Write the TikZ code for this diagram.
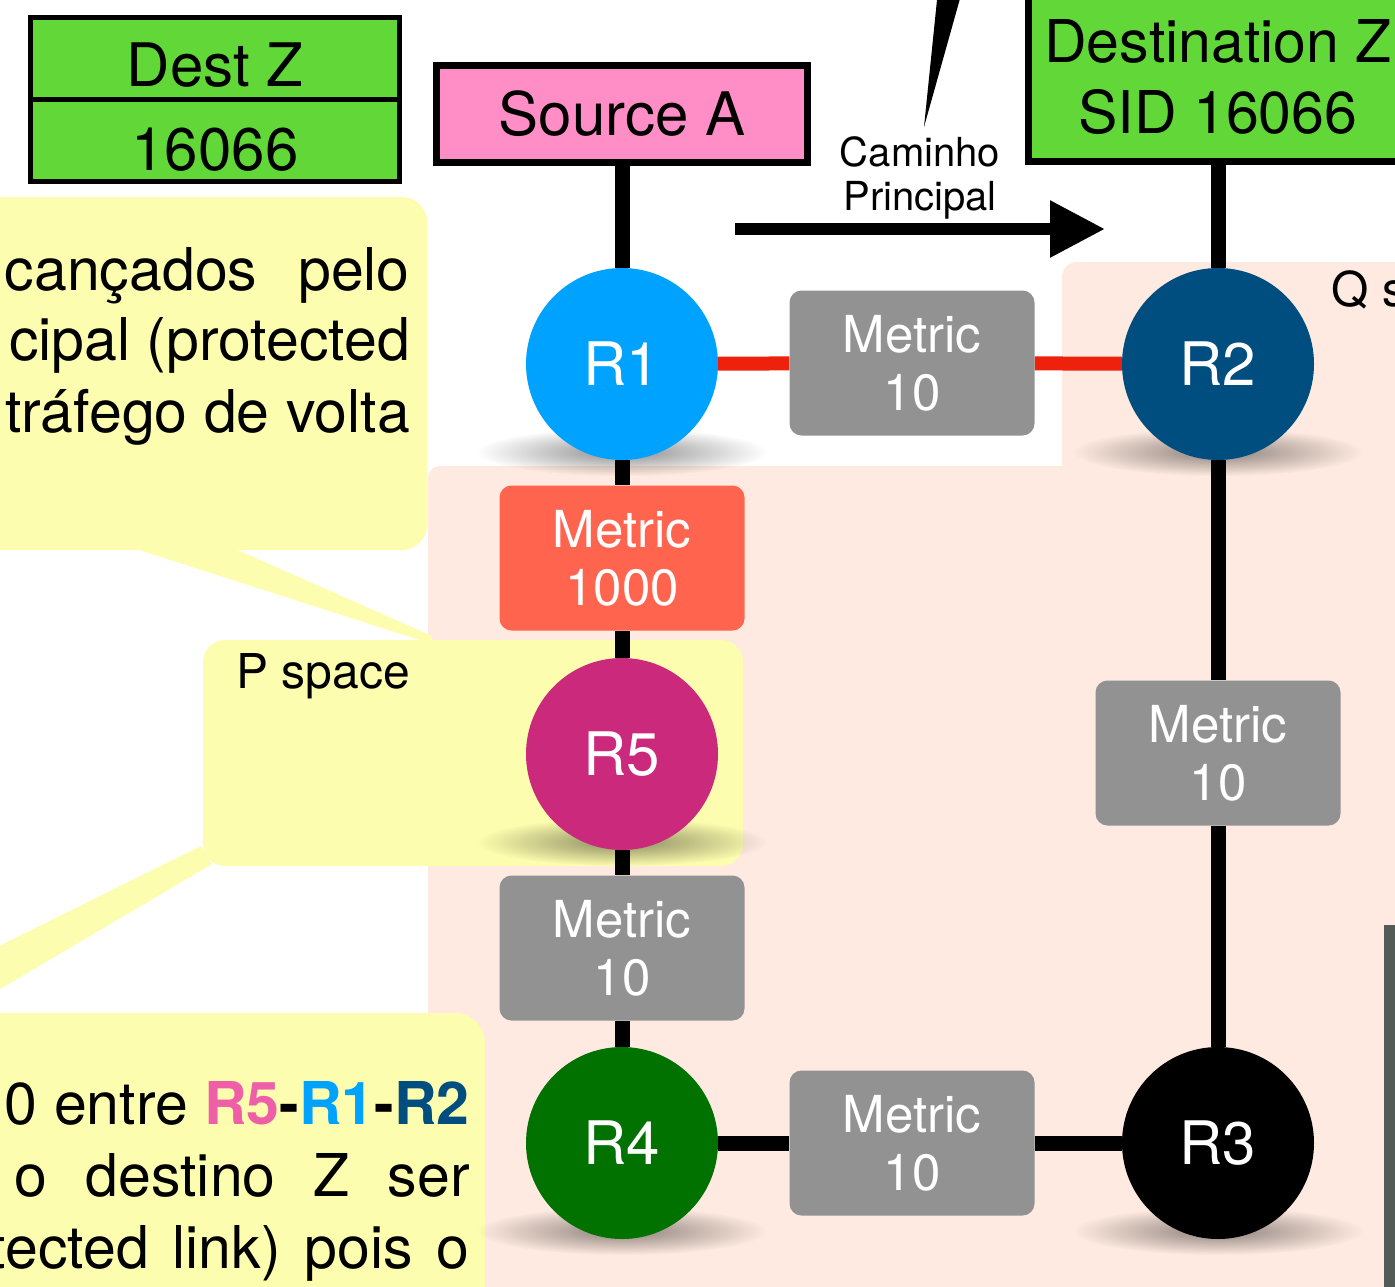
\documentclass[tikz,border=0pt]{standalone}
\usepackage{fontspec}
\setmainfont{TeX Gyre Heros}
\usetikzlibrary{arrows.meta,fadings}
\pgfdeclarelayer{bg}
\pgfdeclarelayer{links}
\pgfsetlayers{bg,links,main}
\definecolor{destgreen}{HTML}{62D838}
\definecolor{srcpink}{HTML}{FF8EC6}
\definecolor{rone}{HTML}{00A2FF}
\definecolor{rtwo}{HTML}{004D80}
\definecolor{rfive}{HTML}{CB297B}
\definecolor{rfour}{HTML}{017100}
\definecolor{rfivetext}{HTML}{EF5FA7}
\definecolor{metricgray}{HTML}{929292}
\definecolor{metricred}{HTML}{FF644E}
\definecolor{linkred}{HTML}{EE220C}
\definecolor{calloutyellow}{HTML}{FDFDAF}
\definecolor{peach}{HTML}{FEEAE0}
\definecolor{stripgray}{HTML}{535B57}
\tikzfading[name=softshadow, inner color=transparent!0, outer color=transparent!100]

\begin{document}
\begin{tikzpicture}[x=1pt, y=-1pt,
    router/.style={circle, minimum size=192pt, inner sep=0pt, text=white, font=\fontsize{60}{72}\selectfont},
    metric/.style={rounded corners=12pt, fill=metricgray, minimum width=245pt, minimum height=145pt, inner sep=0pt, text=white, align=center, font=\fontsize{51}{58}\selectfont},
    link/.style={line width=15pt},
    cell/.style={draw, line width=5pt, fill=destgreen, minimum width=369pt, minimum height=82pt, inner sep=0pt},
    callout/.style={fill=calloutyellow},
    big/.style={font=\fontsize{60}{72}\selectfont},
    note/.style={font=\fontsize{59}{72}\selectfont}]
    \useasboundingbox (0,0) rectangle (1395,1286);

    \begin{scope}
    \clip (0,0) rectangle (1395,1286);

    % Routers
    \foreach \n/\lab/\x/\y/\c in {r1/R1/622/364/rone, r2/R2/1218/364/rtwo, r5/R5/622/754/rfive, r4/R4/622/1143/rfour, r3/R3/1218/1143/black}
        \node[router, fill=\c] (\n) at (\x,\y) {\lab};

    % Metric boxes
    \node[metric] (m12) at (912,363) {Metric\\10};
    \node[metric, fill=metricred] (m15) at (622,558) {Metric\\1000};
    \node[metric] (m54) at (622,948) {Metric\\10};
    \node[metric] (m23) at (1218,753) {Metric\\10};
    \node[metric] (m43) at (912,1143) {Metric\\10};

    % Source and destination
    \node[draw, line width=7pt, fill=srcpink, minimum width=371pt, minimum height=97pt, inner sep=0pt, big] (srcA) at (622,114) {Source A};
    \node[draw, line width=7pt, fill=destgreen, minimum width=380pt, minimum height=168pt, inner sep=0pt, align=center, font=\fontsize{59}{71}\selectfont] (dstZ) at (1218,77) {Destination Z\\SID 16066};

    % Dest Z table
    \node[cell] (tabname) at (215,58) {};
    \node[cell] (tabsid) at (215,140) {};
    \node[big] (tabnamelab) at (215,65) {Dest Z};
    \node[big] (tabsidlab) at (215,150) {16066};

    % Main path arrow
    \fill (924,127) -- (937.5,-5) -- (961,-5) -- cycle;
    \coordinate (arrowstart) at (735,229);
    \coordinate (arrowend) at (1105,229);
    \draw[line width=12pt, -{Triangle[length=55pt, width=54pt]}] (arrowstart) -- (arrowend);
    \node[align=center, font=\fontsize{40}{44}\selectfont] (caminho) at (920,178) {Caminho\\Principal};

    % Space labels
    \node[anchor=base west, font=\fontsize{48}{56}\selectfont] (qspace) at (1328,306) {Q space};
    \node[anchor=base west, font=\fontsize{48}{56}\selectfont] (pspace) at (233,688) {P space};

    % Callout texts
    \node[note, anchor=base east, inner sep=0pt] (topa) at (410,290) {\makebox[405pt]{cançados\hfill pelo}};
    \node[note, anchor=base east, inner sep=0pt] (topb) at (410,360) {cipal (protected};
    \node[note, anchor=base east, inner sep=0pt] (topc) at (410,432) {tráfego de volta};
    \node[note, anchor=base east, inner sep=0pt] (bota) at (470,1124) {0 entre \textbf{{\color{rfivetext}R5}-{\color{rone}R1}-{\color{rtwo}R2}}};
    \node[note, anchor=base east, inner sep=0pt] (botb) at (470,1196) {\makebox[455pt]{o\hfill destino\hfill Z\hfill ser}};
    \node[note, anchor=base east, inner sep=0pt] (botc) at (470,1268) {\makebox[480pt]{tected\hfill link)\hfill pois\hfill o}};

    % Edge of next picture
    \fill[stripgray] (1384,925) rectangle (1400,1300);
    \end{scope}

    % Regions and callouts
    \begin{pgfonlayer}{bg}
    \begin{scope}
    \clip (0,0) rectangle (1395,1286);
    \fill[peach, rounded corners=15pt] (1062,262) rectangle (1420,1310);
    \fill[peach, rounded corners=12pt] (428,466) rectangle (1420,1310);
    \fill[callout, rounded corners=25pt] (-40,197) rectangle (427,550);
    \fill[callout] (133,548) -- (233,548) -- (432,636) -- (432,644) -- cycle;
    \fill[callout] (201,846) -- (212,864) -- (-5,992) -- (-5,948) -- cycle;
    \fill[callout, rounded corners=22pt] (203,640) rectangle (743,866);
    \fill[callout, rounded corners=30pt] (-40,1013) rectangle (485,1330);
    \end{scope}
    \end{pgfonlayer}

    % Shadows and links
    \begin{pgfonlayer}{links}
    \begin{scope}
    \clip (0,0) rectangle (1395,1286);
    \foreach \x/\y in {622/364, 1218/364, 622/754, 622/1143, 1218/1143}
        \fill[black, opacity=0.45, path fading=softshadow] (\x,\y+88) ellipse (145 and 24);
    \draw[link] (srcA) -- (r1);
    \draw[link] (r1) -- (m15) -- (r5);
    \draw[link] (r5) -- (m54) -- (r4);
    \draw[link] (dstZ) -- (r2);
    \draw[link] (r2) -- (m23) -- (r3);
    \draw[link] (r4) -- (m43) -- (r3);
    \draw[link, linkred, line width=14pt] (r1) -- (m12) -- (r2);
    \end{scope}
    \end{pgfonlayer}
\end{tikzpicture}
\end{document}
